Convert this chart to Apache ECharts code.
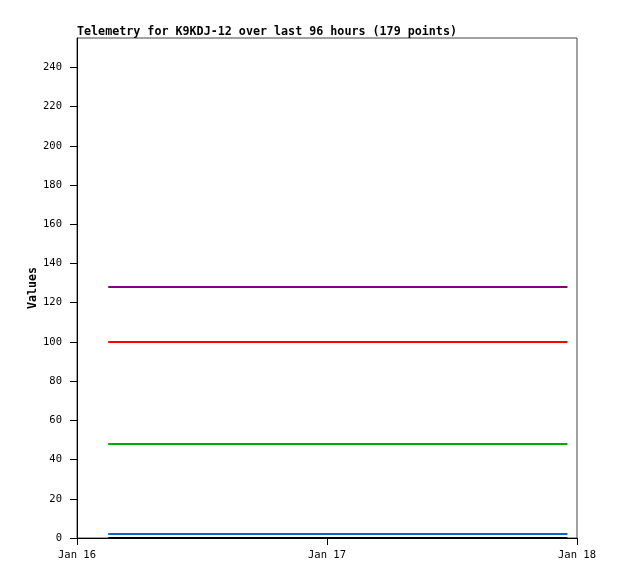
<!DOCTYPE html>
<html>
<head>
<meta charset="utf-8">
<script src="https://cdn.jsdelivr.net/npm/echarts@6/dist/echarts.min.js"></script>
<style>
    html, body { margin: 0; padding: 0; background: #fff; }
    #chart { width: 618px; height: 579px; }
</style>
</head>
<body>
<div id="chart"></div>
<script>
    // readings: first and last sample (UTC), values are flat over the window
    var times = ['2024-01-16T03:00:00Z', '2024-01-17T23:05:00Z'];
    var purpleVals = [128, 128];
    var redVals = [100, 100];
    var greenVals = [48, 48];
    var blueVals = [2, 2];
    var blackVals = [0, 0];
    var yTicks = [0, 20, 40, 60, 80, 100, 120, 140, 160, 180, 200, 220, 240];
    var xStart = '2024-01-16T00:00:00Z';
    var xEnd = '2024-01-18T00:00:00Z';
    var monthNames = ['Jan', 'Feb', 'Mar', 'Apr', 'May', 'Jun', 'Jul', 'Aug', 'Sep', 'Oct', 'Nov', 'Dec'];

    var DAY = 86400000;
    var font = 'DejaVu Sans Mono';

    function pairs(vals) {
        return times.map(function (t, i) { return [Date.parse(t), vals[i]]; });
    }

    function line(name, vals, color) {
        return {
            name: name,
            type: 'line',
            data: pairs(vals),
            symbol: 'none',
            animation: false,
            lineStyle: { color: color, width: 2 }
        };
    }

    var chart = echarts.init(document.getElementById('chart'));
    chart.setOption({
        animation: false,
        title: {
            text: 'Telemetry for K9KDJ-12 over last 96 hours (179 points)',
            left: 77,
            top: 26,
            padding: 0,
            textStyle: { fontFamily: font, fontSize: 11.7, fontWeight: 'bold', color: '#000' }
        },
        grid: {
            left: 77,
            right: 41,
            top: 38,
            bottom: 41,
            show: true,
            borderColor: '#444',
            borderWidth: 1
        },
        xAxis: {
            type: 'value',
            min: Date.parse(xStart),
            max: Date.parse(xEnd),
            interval: DAY,
            splitLine: { show: false },
            axisLine: { lineStyle: { color: '#000', width: 1 } },
            axisTick: { length: 7, lineStyle: { color: '#000' } },
            axisLabel: {
                margin: 12,
                fontFamily: font,
                fontSize: 10.5,
                color: '#000',
                formatter: function (v) {
                    var d = new Date(v);
                    return monthNames[d.getUTCMonth()] + ' ' + d.getUTCDate();
                }
            }
        },
        yAxis: {
            type: 'value',
            min: 0,
            max: 255,
            name: 'Values',
            nameLocation: 'middle',
            nameGap: 38,
            nameMoveOverlap: false,
            nameTextStyle: { fontFamily: font, fontSize: 11.6, fontWeight: 'bold', color: '#000' },
            splitLine: { show: false },
            axisLine: { show: true, lineStyle: { color: '#000', width: 1 } },
            axisTick: {
                show: true,
                length: 7,
                lineStyle: { color: '#000' },
                customValues: yTicks
            },
            axisLabel: {
                margin: 15,
                fontFamily: font,
                fontSize: 10.5,
                color: '#000',
                customValues: yTicks
            }
        },
        series: [
            line('black', blackVals, '#000000'),
            line('blue', blueVals, '#0066cc'),
            line('green', greenVals, '#00aa00'),
            line('red', redVals, '#ff0000'),
            line('purple', purpleVals, '#800080')
        ]
    });
</script>
</body>
</html>
